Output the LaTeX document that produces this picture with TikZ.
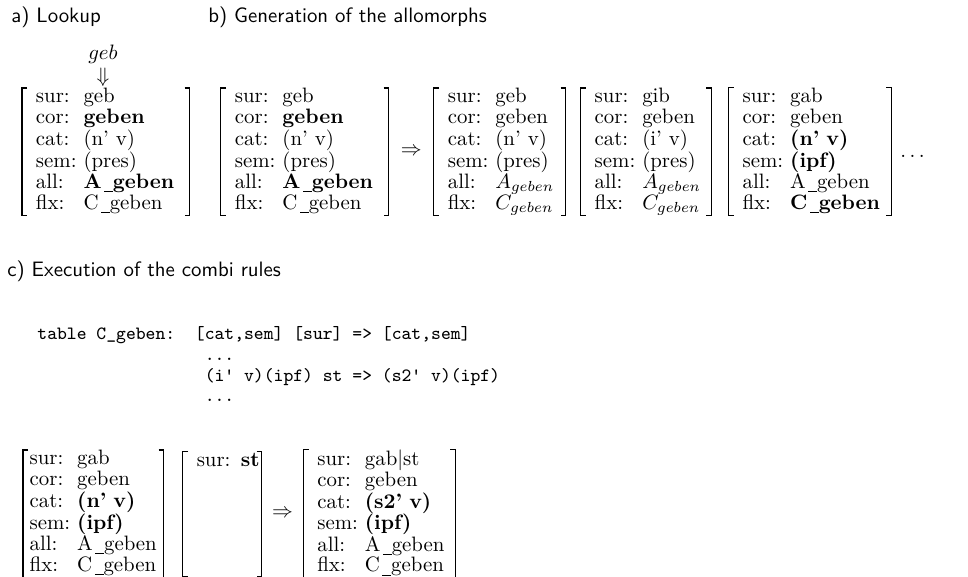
\documentclass[tikz,border=0pt]{standalone}
\usepackage{amssymb}
\usepackage{amsmath}
\usepackage{tikz}
\usetikzlibrary{positioning}
\renewcommand{\arraystretch}{0.83}
\newcommand{\usc}{\kern0.12em\rule[-1.8pt]{0.42em}{0.45pt}}
\newcommand{\fsrows}[7][6.5pt]{%
  \begin{tabular}{@{\hspace{#1}}l@{\ }l@{}}
    sur: & #2\\ cor: & #3\\ cat: & #4\\ sem: & #5\\ all: & #6\\ flx: & #7
  \end{tabular}}

\begin{document}
\begin{tikzpicture}[x=0.48pt, y=-0.48pt,
                  fs/.style={inner sep=0pt, anchor=north west, align=left},
                  brk/.style={line width=0.5pt},
                  lbl/.style={font=\sffamily, anchor=west, inner sep=0pt},
                  rule/.style={font=\small\ttfamily, anchor=base west, inner sep=0pt}
                  ]
                  \useasboundingbox (0,0) rectangle (968,577);
                  \node[lbl] (lbla) at (11,17)  {a) Lookup};
                  \node[lbl] (lblb) at (208,17) {b) Generation of the allomorphs};
                  \node[lbl] (lblc) at (7,271)  {c) Execution of the combi rules};

                  % a) and b)
                  \node[inner sep=0pt] (down) at (103,77) {$\Downarrow$};
                  \node[inner sep=0pt, above=1.5pt of down] (input) {$geb$};
                  \node[fs, text width=80.2pt] (lookup) at (22,88)
                    {\fsrows{geb}{\textbf{geben}}{(n' v)}{(pres)}{\textbf{A\usc geben}}{C\usc geben}};
                  \node[fs, text width=80.2pt, right=14.9pt of lookup] (gen1)
                    {\fsrows{geb}{\textbf{geben}}{(n' v)}{(pres)}{\textbf{A\usc geben}}{C\usc geben}};
                  \node[fs, text width=62.9pt, right=21.6pt of gen1] (gen2)
                    {\fsrows{geb}{geben}{(n' v)}{(pres)}{$A_{geben}$}{$C_{geben}$}};
                  \node[fs, text width=62.4pt, right=7.2pt of gen2] (gen3)
                    {\fsrows{gib}{geben}{(i' v)}{(pres)}{$A_{geben}$}{$C_{geben}$}};
                  \node[fs, text width=77.8pt, right=8.2pt of gen3] (gen4)
                    {\fsrows{gab}{geben}{\textbf{(n' v)}}{\textbf{(ipf)}}{A\usc geben}{\textbf{C\usc geben}}};
                  \path (gen1) -- node (arr1) {$\Rightarrow$} (gen2);
                  \node[anchor=base west, inner sep=0pt] (more) at ([xshift=4pt,yshift=-2.5pt]gen4.east) {$\ldots$};

                  % c)
                  \node[rule] (table) at (37,340) {\renewcommand{\arraystretch}{0.9}%
                    \begin{tabular}[t]{@{}l@{\ \ }l@{}}
                      table C\char95geben: & [cat,sem] [sur] => [cat,sem]\\
                      & \ ...\\
                      & \ (i' v)(ipf) st => (s2' v)(ipf)\\
                      & \ ...
                    \end{tabular}};
                  \node[fs, text width=67.2pt] (comb1) at (23,450)
                    {\fsrows[3pt]{gab}{geben}{\textbf{(n' v)}}{\textbf{(ipf)}}{A\usc geben}{C\usc geben}};
                  \node[fs, text width=37.5pt, right=9.1pt of comb1] (comb2)
                    {\begin{tabular}{@{\hspace{6.5pt}}l@{}}sur: \textbf{st}\\ \\ \\ \\ \\ ~\end{tabular}};
                  \node[fs, text width=72.5pt, right=20pt of comb2] (comb3)
                    {\fsrows{gab$|$st}{geben}{\textbf{(s2' v)}}{\textbf{(ipf)}}{A\usc geben}{C\usc geben}};
                  \path (comb2) -- node (arr2) {$\Rightarrow$} (comb3);

                  % brackets
                  \foreach \n in {lookup,gen1,gen2,gen3,gen4,comb1,comb2,comb3} {
                    \draw[brk] ([xshift=2.5pt]\n.north west) -- (\n.north west) -- (\n.south west) -- ([xshift=2.5pt]\n.south west);
                    \draw[brk] ([xshift=-2.5pt]\n.north east) -- (\n.north east) -- (\n.south east) -- ([xshift=-2.5pt]\n.south east);
                  }
                \end{tikzpicture}
\end{document}
